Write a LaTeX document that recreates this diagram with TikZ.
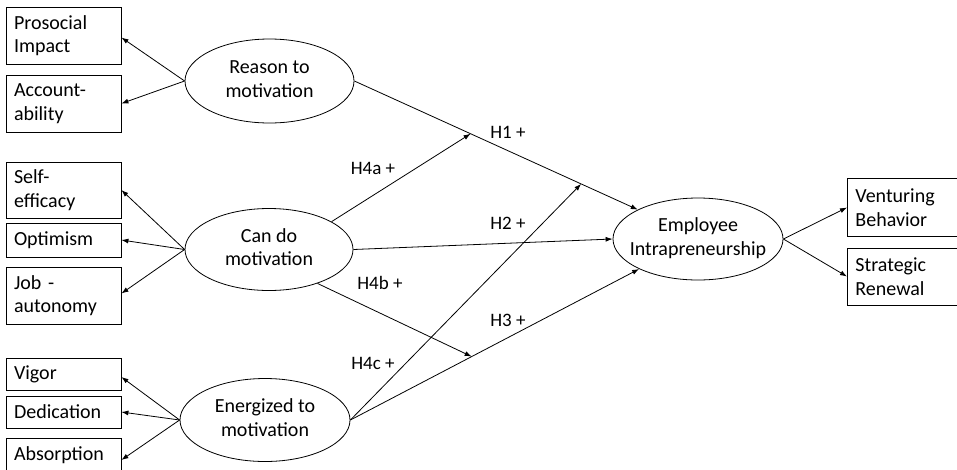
\documentclass[tikz,border=0pt]{standalone}
\usepackage{fontspec}
\setmainfont{Carlito}
\usetikzlibrary{shapes.geometric,arrows.meta}
\newcommand{\twol}[2]{\makebox[0pt]{\begin{tabular}{@{}c@{}}#1\\#2\end{tabular}}}
\begin{document}
\begin{tikzpicture}[x=1pt,y=-1pt,
  box/.style={draw, line width=0.8pt, rectangle, inner xsep=8pt, inner ysep=0pt,
    text width=99pt, align=left, font=\fontsize{20}{23.5}\selectfont},
  rbox/.style={box, text width=104pt, anchor=west},
  ell/.style={draw, line width=0.8pt, ellipse, inner sep=0pt,
    font=\fontsize{20}{23.5}\selectfont},
  arr/.style={line width=0.8pt, -{Latex[length=7pt,width=5pt]}},
  lab/.style={inner sep=0pt, font=\fontsize{19}{22}\selectfont}
]
\useasboundingbox (0,0) rectangle (957,469);

% latent constructs
\node[ell, minimum width=169pt, minimum height=84pt] (reason) at (269.5,81) {\twol{Reason to}{motivation}};
\node[ell, minimum width=168pt, minimum height=82pt] (cando) at (269,249.5) {\twol{Can do}{motivation}};
\node[ell, minimum width=170pt, minimum height=83pt] (energ) at (265,420) {\twol{Energized to}{motivation}};
\node[ell, minimum width=170pt, minimum height=82pt] (emp) at (698,239) {\twol{Employee}{Intrapreneurship}};

% indicators
\node[box, minimum height=57pt] (pro) at (63.5,35.5) {Prosocial\\Impact};
\node[box, minimum height=57pt] (acc) at (63.5,103.5) {Account-\\ability};
\node[box, minimum height=56pt] (self) at (63.5,190) {Self-\\efficacy};
\node[box, minimum height=34pt] (opt) at (63.5,240) {Optimism};
\node[box, minimum height=57pt] (job) at (63.5,295.5) {Job -\\autonomy};
\node[box, minimum height=32pt] (vig) at (63.5,374) {Vigor};
\node[box, minimum height=32pt] (ded) at (63.5,412) {Dedication};
\node[box, minimum height=34pt] (abs) at (63.5,455) {Absorption};
\node[rbox, minimum height=58pt] (vent) at (847,207.5) {Venturing\\Behavior};
\node[rbox, minimum height=57pt] (strat) at (847,276.5) {Strategic\\Renewal};

% measurement arrows
\draw[arr] (reason.west) -- ([yshift=-2pt]pro.east);
\draw[arr] (reason.west) -- (acc.east);
\draw[arr] (cando.west) -- (self.east);
\draw[arr] (cando.west) -- (opt.east);
\draw[arr] (cando.west) -- ([yshift=2pt]job.east);
\draw[arr] (energ.west) -- ([yshift=-3pt]vig.east);
\draw[arr] (energ.west) -- (ded.east);
\draw[arr] (energ.west) -- ([yshift=-5pt]abs.east);
\draw[arr] (emp.east) -- (vent.west);
\draw[arr] (emp.east) -- (strat.west);

% structural paths
\draw[arr] (reason.east) -- coordinate[pos=0.41] (m1) coordinate[pos=0.80] (m2) (emp.154.2);
\draw[arr] (cando.east) -- (emp.west);
\draw[arr] (energ.east) -- coordinate[pos=0.42] (m3) (emp.207.7);
\draw[arr] (cando.24.7) -- (m1);
\draw[arr] (cando.-35.9) -- (m3);
\draw[arr] (energ.east) -- (m2);

% labels
\node[lab] (h1) at (508,132) {H1 +};
\node[lab] (h4a) at (373,168) {H4a +};
\node[lab] (h2) at (508,223) {H2 +};
\node[lab] (h4b) at (380,283) {H4b +};
\node[lab] (h3) at (508,320) {H3 +};
\node[lab] (h4c) at (373,363) {H4c +};
\end{tikzpicture}
\end{document}
